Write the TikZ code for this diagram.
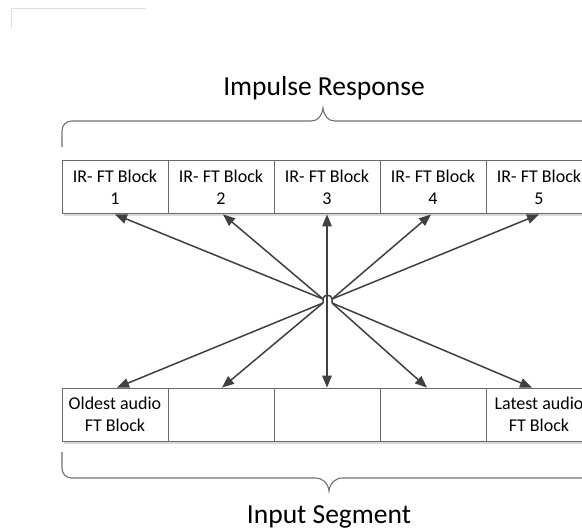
\documentclass[tikz,border=0pt]{standalone}
\usepackage{fontspec}
\setmainfont{Carlito}
\usetikzlibrary{arrows.meta,calc}

\definecolor{boxline}{HTML}{6A6A6A}
\definecolor{arrowc}{HTML}{404040}
\definecolor{bracec}{HTML}{707070}
\definecolor{shadowc}{HTML}{DADADA}
\definecolor{framec}{HTML}{E0E0E0}

\tikzset{
  ftblock/.style={draw=boxline, line width=1pt, minimum width=106pt,
    minimum height=53pt, inner sep=0pt, align=center,
    font=\fontsize{18}{22}\selectfont},
  fanarrow/.style={draw=arrowc, line width=1.5pt,
    -{Triangle[length=12pt,width=9.5pt]}},
  botharrow/.style={draw=arrowc, line width=1.5pt,
    {Triangle[length=12pt,width=9.5pt]}-{Triangle[length=12pt,width=9.5pt]}},
  hubline/.style={draw=arrowc, line width=1.5pt},
  bracepath/.style={draw=bracec, line width=1.1pt},
  shadowline/.style={draw=shadowc, line width=2pt},
  titletext/.style={font=\fontsize{27.5}{32}\selectfont, anchor=base, inner sep=0pt}
}

\begin{document}
\begin{tikzpicture}[x=1pt,y=-1pt]
  \useasboundingbox (0,0) rectangle (582,532);
  \clip (0,0) rectangle (582,532);
  \fill[white] (0,0) rectangle (582,532);

  % faint frame corner at the top left
  \draw[framec, line width=1pt] (11,29) -- (11,9) -- (146,9);

  % titles
  \node[titletext] (irtitle) at (324,96) {Impulse Response};
  \node[titletext] (intitle) at (329,523) {Input Segment};

  % braces
  \draw[bracepath] (62,147) -- (62,131) .. controls (62,125) and (66,121) .. (72,121)
    -- (311,121) .. controls (318,121) and (322,116) .. (323,108)
    .. controls (324,116) and (328,121) .. (335,121) -- (590,121);
  \draw[bracepath] (62,452) -- (62,468) .. controls (62,474) and (66,478) .. (72,478)
    -- (315,478) .. controls (323,478) and (328,483) .. (329,491)
    .. controls (330,483) and (335,478) .. (343,478) -- (590,478);

  % light shadows under the two rows
  \draw[shadowline] (64,215.5) -- (600,215.5);
  \draw[shadowline] (64,443) -- (600,443);

  % impulse response blocks
  \node[ftblock] (t1) at (115,187.4) {IR- FT Block\\1};
  \node[ftblock] (t2) at (221,187.4) {IR- FT Block\\2};
  \node[ftblock] (t3) at (327,187.4) {IR- FT Block\\3};
  \node[ftblock] (t4) at (433,187.4) {IR- FT Block\\4};
  \node[ftblock] (t5) at (539,187.4) {IR- FT Block\\5};

  % input segment blocks
  \node[ftblock] (b1) at (115,414.6) {Oldest audio\\FT Block};
  \node[ftblock] (b2) at (221,414.6) {};
  \node[ftblock] (b3) at (327,414.6) {};
  \node[ftblock] (b4) at (433,414.6) {};
  \node[ftblock] (b5) at (539,414.6) {Latest audio\\FT Block};

  % hub where the connectors meet
  \coordinate (hUL) at (323,299);
  \coordinate (hUR) at (332,299);
  \coordinate (hLL) at (323,303);
  \coordinate (hLR) at (332,303);
  \draw[hubline] (hLL) -- (hUL) .. controls (323,294) and (332,294) .. (hUR) -- (hLR);

  % connectors to the impulse response blocks
  \draw[fanarrow] (hUL) -- (t1.south);
  \draw[fanarrow] (hUL) -- ($(t2.south)+(2,0)$);
  \draw[fanarrow] (hUR) -- ($(t4.south)+(-2,0)$);
  \draw[fanarrow] (hUR) -- (t5.south);

  % connectors to the input segment blocks
  \draw[fanarrow] (hLL) -- ($(b1.north)+(2,0)$);
  \draw[fanarrow] (hLL) -- ($(b2.north)+(1,0)$);
  \draw[fanarrow] (hLR) -- ($(b4.north)+(-6,0)$);
  \draw[fanarrow] (hLR) -- ($(b5.north)+(-7,0)$);

  % straight connector through the hub
  \draw[botharrow] (t3.south) -- (b3.north);
\end{tikzpicture}
\end{document}
